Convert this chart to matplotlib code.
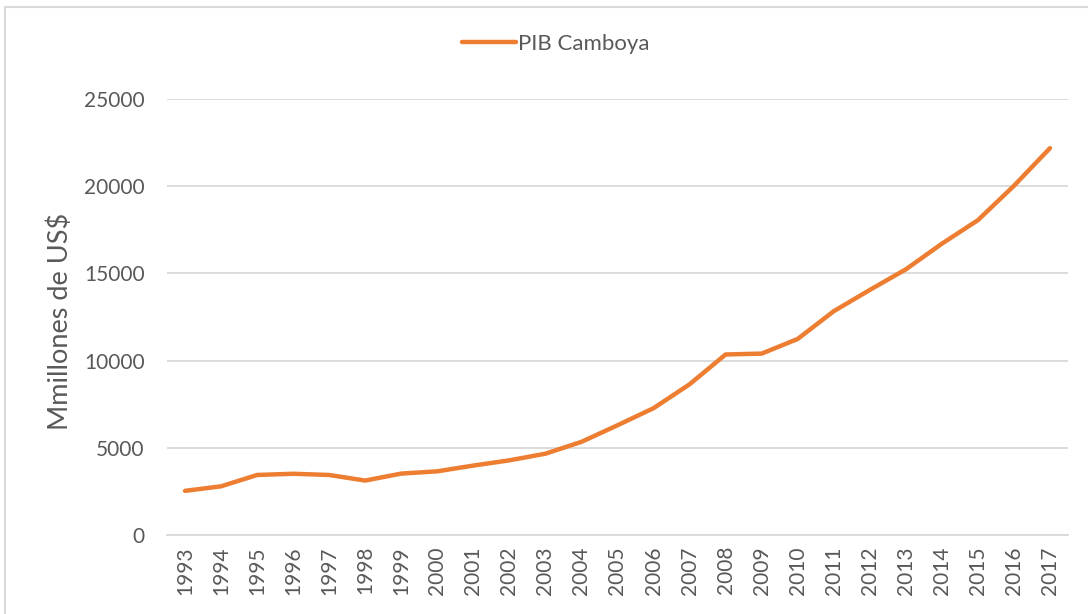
import matplotlib
matplotlib.use("Agg")
import matplotlib.pyplot as plt
from matplotlib.patches import Rectangle

# ── data ────────────────────────────────────────────────────────────────────
years = [str(y) for y in range(1993, 2018)]
pib_camboya = [2530, 2790, 3440, 3510, 3440, 3120, 3520, 3650, 3980, 4280,
               4660, 5340, 6290, 7270, 8640, 10350, 10400, 11240, 12830, 14050,
               15230, 16700, 18050, 20020, 22180]
y_ticks = [0, 5000, 10000, 15000, 20000, 25000]

TXT = "#595959"
ORANGE = "#ED7D31"
GRID = "#D9D9D9"

plt.rcParams["font.family"] = ["Lato", "DejaVu Sans"]

fig = plt.figure(figsize=(10.88, 6.14), dpi=100)
ax = fig.add_axes([0.1535, 0.1287, 0.8281, 0.7101])

x = list(range(len(years)))
line, = ax.plot(x, pib_camboya, color=ORANGE, linewidth=3.2,
                solid_capstyle="round", solid_joinstyle="round",
                label="PIB Camboya", zorder=3)

ax.set_xlim(-0.5, len(years) - 0.5)
ax.set_ylim(0, 25000)
ax.set_yticks(y_ticks)
ax.set_yticklabels([str(v) for v in y_ticks], fontsize=15, color=TXT)
ax.set_xticks(x)
ax.set_xticklabels(years, rotation=90, fontsize=15, color=TXT)
ax.tick_params(axis="both", length=0)
ax.tick_params(axis="y", pad=16)
ax.tick_params(axis="x", pad=8)

ax.grid(True, axis="y", color=GRID, linewidth=1.3)
ax.set_axisbelow(True)
for s in ["top", "right", "left"]:
    ax.spines[s].set_visible(False)
ax.spines["bottom"].set_color(GRID)
ax.spines["bottom"].set_linewidth(1.3)

# axis title, placed like the Excel one
fig.text(60 / 1088, 1 - 321 / 614, "Mmillones de US$", rotation=90,
         ha="center", va="center", fontsize=19.5, color=TXT)

leg = fig.legend(handles=[line], loc="center", bbox_to_anchor=(0.511, 0.928),
                 frameon=False, fontsize=16, handlelength=2.4,
                 handletextpad=0.1)
for t in leg.get_texts():
    t.set_color(TXT)

# light chart-area border (Excel style)
fig.patches.append(Rectangle((5 / 1088, -0.1), 1.2, 1 - 7 / 614 + 0.1,
                             transform=fig.transFigure, fill=False,
                             edgecolor=GRID, linewidth=1.5))

plt.savefig("out.png", dpi=100)
